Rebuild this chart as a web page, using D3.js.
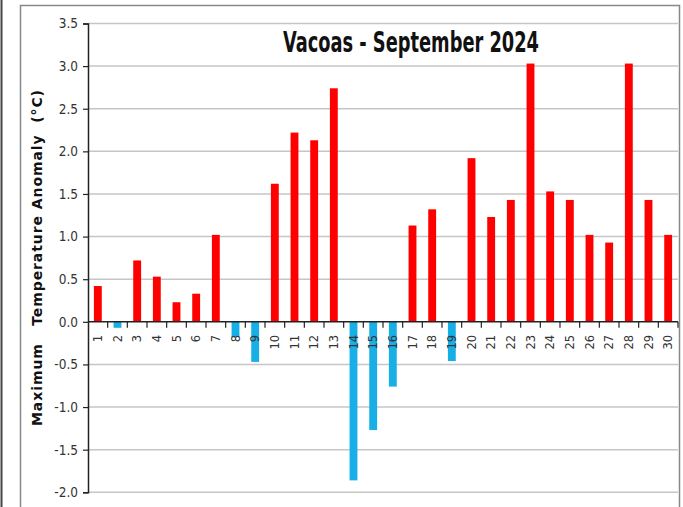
<!DOCTYPE html>
<html>
<head>
<meta charset="utf-8">
<script src="https://cdn.jsdelivr.net/npm/d3@7"></script>
<style>
  body { margin: 0; background: #fff; }
  svg { display: block; }
</style>
</head>
<body>
<svg id="chart" width="683" height="507"></svg>
<script>
// daily max temperature anomaly, Vacoas, September 2024
var days = d3.range(1, 31).map(String);
var anomalies = [0.42, -0.07, 0.72, 0.53, 0.23, 0.33, 1.02, -0.18, -0.47, 1.62,
                 2.22, 2.13, 2.74, -1.86, -1.27, -0.76, 1.13, 1.32, -0.46, 1.92,
                 1.23, 1.43, 3.03, 1.53, 1.43, 1.02, 0.93, 3.03, 1.43, 1.02];
var yTicks = [-2.0, -1.5, -1.0, -0.5, 0.0, 0.5, 1.0, 1.5, 2.0, 2.5, 3.0, 3.5];
var title = "Vacoas - September 2024";
var yTitle = "Maximum   Temperature Anomaly  (°C)";

var data = days.map(function (d, i) { return { day: d, value: anomalies[i] }; });

var svg = d3.select("#chart");

// outer frames
svg.append("rect")
  .attr("x", 0.5).attr("y", -2).attr("width", 2).attr("height", 512)
  .attr("fill", "#444");
svg.append("rect")
  .attr("x", 20.5).attr("y", 5.5).attr("width", 659).attr("height", 510)
  .attr("fill", "none").attr("stroke", "#888").attr("stroke-width", 1.5);

var x = d3.scaleBand().domain(days).range([88, 678]).paddingInner(0.6).paddingOuter(0.3);
var y = d3.scaleLinear().domain([-2, 3.5]).range([492.3, 23.5]);

// gridlines
svg.append("g")
  .selectAll("line")
  .data(yTicks.filter(function (t) { return t !== 0; }))
  .join("line")
  .attr("x1", 88).attr("x2", 678)
  .attr("y1", function (d) { return y(d); })
  .attr("y2", function (d) { return y(d); })
  .attr("stroke", "#c6c6c6").attr("stroke-width", 1.5);

// y axis
var yAxisG = svg.append("g")
  .attr("transform", "translate(88,0)")
  .call(d3.axisLeft(y).tickValues(yTicks).tickSize(5).tickPadding(5)
    .tickFormat(d3.format(".1f")));
yAxisG.select(".domain").attr("stroke", "#222").attr("stroke-width", 1.5);
yAxisG.selectAll(".tick line").attr("stroke", "#222").attr("stroke-width", 1.2);
yAxisG.selectAll(".tick text")
  .attr("fill", "#333")
  .style("font-family", "'Liberation Sans Narrow', 'DejaVu Sans Condensed', sans-serif")
  .style("font-size", "13.5px")
  .text(function (d) { return d < 0 ? "-" + d3.format(".1f")(-d) : d3.format(".1f")(d); });

// bars
svg.append("g")
  .selectAll("rect")
  .data(data)
  .join("rect")
  .attr("x", function (d) { return x(d.day); })
  .attr("width", x.bandwidth())
  .attr("y", function (d) { return y(Math.max(0, d.value)); })
  .attr("height", function (d) { return Math.abs(y(d.value) - y(0)); })
  .attr("fill", function (d) { return d.value >= 0 ? "#ff0000" : "#18aee6"; });

// x axis on zero line, ticks at category boundaries
var xAxisG = svg.append("g").attr("transform", "translate(0," + y(0) + ")");
xAxisG.append("line")
  .attr("x1", 88).attr("x2", 678)
  .attr("stroke", "#222").attr("stroke-width", 1.5);
xAxisG.selectAll(".xtick")
  .data(days)
  .join("line")
  .attr("class", "xtick")
  .attr("x1", function (d) { return x(d) + x.bandwidth() / 2 + x.step() / 2; })
  .attr("x2", function (d) { return x(d) + x.bandwidth() / 2 + x.step() / 2; })
  .attr("y1", 0).attr("y2", 6)
  .attr("stroke", "#222").attr("stroke-width", 1.2);
xAxisG.selectAll(".xlabel")
  .data(days)
  .join("text")
  .attr("class", "xlabel")
  .attr("transform", function (d) {
    return "translate(" + (x(d) + x.bandwidth() / 2 + 4) + ",13) rotate(-90)";
  })
  .attr("text-anchor", "end")
  .attr("fill", "#333")
  .style("font-family", "'DejaVu Sans', Verdana, sans-serif")
  .style("font-size", "11.5px")
  .text(function (d) { return d; });

// y axis title
svg.append("text")
  .attr("transform", "translate(42,258) rotate(-90)")
  .attr("text-anchor", "middle")
  .attr("textLength", 336)
  .attr("lengthAdjust", "spacing")
  .style("font-family", "'DejaVu Sans', Verdana, sans-serif")
  .style("font-weight", "bold")
  .style("font-size", "14px")
  .style("white-space", "pre")
  .attr("fill", "#111")
  .text(yTitle);

// title
svg.append("text")
  .attr("x", 411).attr("y", 52)
  .attr("text-anchor", "middle")
  .attr("textLength", 256)
  .attr("lengthAdjust", "spacingAndGlyphs")
  .style("font-family", "'Liberation Sans Narrow', 'DejaVu Sans Condensed', sans-serif")
  .style("font-weight", "bold")
  .style("font-size", "29px")
  .attr("fill", "#111")
  .text(title);
</script>
</body>
</html>
